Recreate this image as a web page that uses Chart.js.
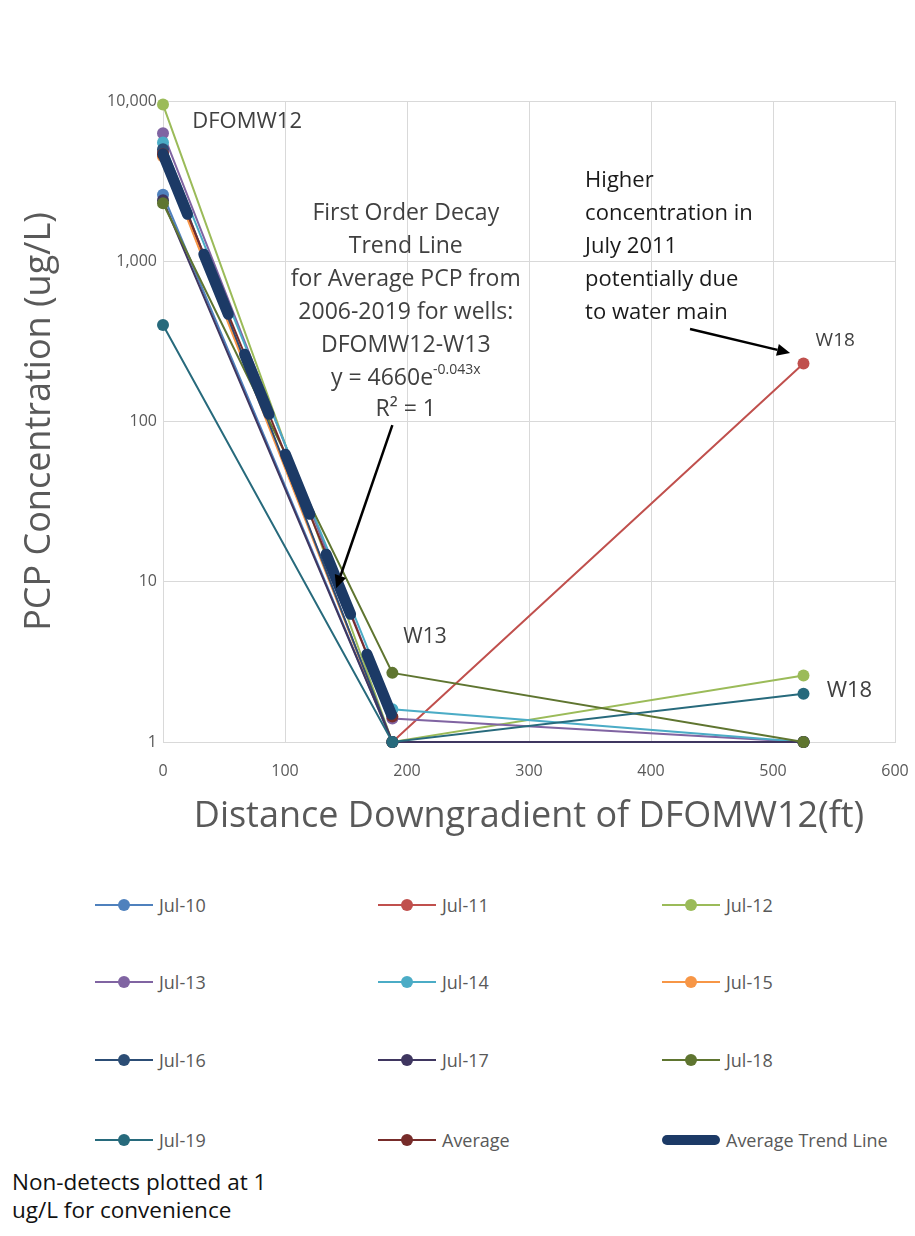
<!DOCTYPE html>
<html>
<head>
<meta charset="utf-8">
<script src="https://cdn.jsdelivr.net/npm/chart.js@4.4.1/dist/chart.umd.min.js"></script>
<style>
  html, body { margin: 0; padding: 0; background: #ffffff; }
  body { width: 915px; height: 1236px; position: relative; overflow: hidden; font-family: "Open Sans", sans-serif; }
  #wrap { position: absolute; left: 0; top: 0; width: 915px; height: 860px; }
  .leg { position: absolute; height: 20px; display: flex; align-items: center; }
  .leg .sample { position: relative; width: 58px; height: 20px; }
  .leg .sample .ln { position: absolute; left: 0; right: 0; top: 9px; height: 2px; }
  .leg .sample .dot { position: absolute; left: 23px; top: 4px; width: 12px; height: 12px; border-radius: 50%; }
  .leg .sample .thick { position: absolute; left: 0; right: 0; top: 5px; height: 10px; border-radius: 5px; }
  .leg .txt { margin-left: 6px; font-size: 18px; color: #595959; white-space: nowrap; }
  #note { position: absolute; left: 12px; top: 1168px; font-size: 22.5px; line-height: 28px; color: #111111; }
</style>
</head>
<body>
<div id="wrap"><canvas id="c" width="915" height="860"></canvas></div>
<div id="legend"></div>
<div id="note">Non-detects plotted at 1<br>ug/L for convenience</div>
<script>
// Well distances downgradient of DFOMW12 (ft): DFOMW12, W13, W18
const distances = [0, 188, 525];

// PCP concentrations (ug/L) per sampling event, one value per well
const jul10 = [2600, 1, 1];
const jul11 = [4800, 1, 230];
const jul12 = [9500, 1, 2.6];
const jul13 = [6300, 1.4, 1];
const jul14 = [5500, 1.6, 1];
const jul15 = [4500, 1, 1];
const jul16 = [5000, 1, 1];
const jul17 = [2400, 1, 1];
const jul18 = [2300, 2.7, 1];
const jul19 = [400, 1, 2.0];
const average = [4660, 1.44];           // DFOMW12 and W13 only

// Exponential trend line endpoints (DFOMW12 to W13)
const trendX = [0, 188];
const trendY = [4660, 1.44];

const yTicks = [1, 10, 100, 1000, 10000];
const xTickStep = 100;

const seriesNames = ['Jul-10', 'Jul-11', 'Jul-12', 'Jul-13', 'Jul-14', 'Jul-15',
                     'Jul-16', 'Jul-17', 'Jul-18', 'Jul-19', 'Average'];
const seriesValues = [jul10, jul11, jul12, jul13, jul14, jul15, jul16, jul17, jul18, jul19, average];
const seriesColors = ['#4f81bd', '#c0504d', '#9bbb59', '#8064a2', '#4bacc6', '#f79646',
                      '#2c4d75', '#3f3660', '#5f7530', '#276a7c', '#772c2a'];
const trendName = 'Average Trend Line';
const trendColor = '#1c3a66';

const FONT = '"Open Sans", sans-serif';

const datasets = seriesValues.map((vals, i) => ({
  label: seriesNames[i],
  data: vals.map((v, j) => ({ x: distances[j], y: v })),
  borderColor: seriesColors[i],
  backgroundColor: seriesColors[i],
  pointBackgroundColor: seriesColors[i],
  pointBorderColor: seriesColors[i],
  borderWidth: 2,
  pointRadius: 6,
  pointBorderWidth: 0,
  tension: 0,
  clip: false,
  order: 20 - i
}));
datasets.push({
  label: trendName,
  data: trendX.map((x, j) => ({ x: x, y: trendY[j] })),
  borderColor: trendColor,
  backgroundColor: trendColor,
  borderWidth: 11,
  borderDash: [65, 43],
  borderCapStyle: 'round',
  pointRadius: 0,
  tension: 0,
  clip: false,
  order: 0
});

// Text notes and arrows, anchored in data coordinates
const textNotes = [
  { lines: ['DFOMW12'], x: 24, y: 7400, align: 'left', size: 22, color: '#404040' },
  { lines: ['W13'], x: 197, y: 4.5, align: 'left', size: 21, color: '#404040' },
  { lines: ['W18'], x: 551, y: 318, align: 'center', size: 19, color: '#404040' },
  { lines: ['W18'], x: 544, y: 2.1, align: 'left', size: 22, color: '#404040' },
  { lines: ['Higher', 'concentration in', 'July 2011', 'potentially due', 'to water main'],
    x: 346, y: 3200, align: 'left', size: 22, color: '#1a1a1a', lineGap: 33 }
];
const trendNote = {
  lines: ['First Order Decay', 'Trend Line', 'for Average PCP from', '2006-2019 for wells:', 'DFOMW12-W13'],
  x: 199, y: 2000, size: 23, color: '#404040', lineGap: 33,
  eqMain: 'y = 4660e', eqSup: '-0.043x', r2: 'R\u00b2 = 1'
};
const arrows = [
  { from: [432, 378], to: [514, 268] },
  { from: [188, 95], to: [142, 9.1] }
];

const notesPlugin = {
  id: 'notes',
  afterDraw(chart) {
    const ctx = chart.ctx;
    const xs = chart.scales.x, ys = chart.scales.y;
    ctx.save();
    ctx.textBaseline = 'middle';
    textNotes.forEach(n => {
      ctx.font = n.size + 'px ' + FONT;
      ctx.fillStyle = n.color;
      ctx.textAlign = n.align;
      const px = xs.getPixelForValue(n.x), py = ys.getPixelForValue(n.y);
      n.lines.forEach((t, k) => ctx.fillText(t, px, py + k * (n.lineGap || 0)));
    });
    // trend line description block
    const t = trendNote;
    const cx = xs.getPixelForValue(t.x), cy = ys.getPixelForValue(t.y);
    ctx.font = t.size + 'px ' + FONT;
    ctx.fillStyle = t.color;
    ctx.textAlign = 'center';
    t.lines.forEach((s, k) => ctx.fillText(s, cx, cy + k * t.lineGap));
    const eqY = cy + t.lines.length * t.lineGap;
    const supFont = Math.round(t.size * 0.62) + 'px ' + FONT;
    const wMain = ctx.measureText(t.eqMain).width;
    ctx.font = supFont;
    const wSup = ctx.measureText(t.eqSup).width;
    const startX = cx - (wMain + wSup) / 2;
    ctx.textAlign = 'left';
    ctx.font = t.size + 'px ' + FONT;
    ctx.fillText(t.eqMain, startX, eqY);
    ctx.font = supFont;
    ctx.fillText(t.eqSup, startX + wMain, eqY - 8);
    ctx.font = t.size + 'px ' + FONT;
    ctx.textAlign = 'center';
    ctx.fillText(t.r2, cx, eqY + t.lineGap - 2);
    // arrows
    ctx.strokeStyle = '#000000';
    ctx.fillStyle = '#000000';
    ctx.lineWidth = 2.5;
    arrows.forEach(a => {
      const x1 = xs.getPixelForValue(a.from[0]), y1 = ys.getPixelForValue(a.from[1]);
      const x2 = xs.getPixelForValue(a.to[0]), y2 = ys.getPixelForValue(a.to[1]);
      const ang = Math.atan2(y2 - y1, x2 - x1);
      const head = 13, half = 6;
      const bx = x2 - head * Math.cos(ang), by = y2 - head * Math.sin(ang);
      ctx.beginPath();
      ctx.moveTo(x1, y1);
      ctx.lineTo(bx, by);
      ctx.stroke();
      ctx.beginPath();
      ctx.moveTo(x2, y2);
      ctx.lineTo(bx + half * Math.sin(ang), by - half * Math.cos(ang));
      ctx.lineTo(bx - half * Math.sin(ang), by + half * Math.cos(ang));
      ctx.closePath();
      ctx.fill();
    });
    ctx.restore();
  }
};

new Chart(document.getElementById('c'), {
  type: 'line',
  data: { datasets: datasets },
  options: {
    responsive: false,
    animation: false,
    layout: { padding: { left: 0, top: 101, right: 20, bottom: 22 } },
    plugins: { legend: { display: false }, tooltip: { enabled: false } },
    scales: {
      x: {
        type: 'linear', min: 0, max: 600,
        ticks: { stepSize: xTickStep, color: '#595959', font: { family: FONT, size: 16 }, padding: 4 },
        grid: { color: '#d9d9d9', lineWidth: 1, drawTicks: true, tickLength: 16, tickColor: 'rgba(0,0,0,0)' },
        border: { color: '#d9d9d9', width: 1 },
        title: { display: true, text: 'Distance Downgradient of DFOMW12(ft)', color: '#595959',
                 font: { family: FONT, size: 36 }, padding: { top: 0, bottom: 0 } },
        afterFit: s => { s.height = 96; }
      },
      y: {
        type: 'logarithmic', min: 1, max: 10000,
        afterBuildTicks: s => { s.ticks = yTicks.map(v => ({ value: v, major: true })); },
        ticks: { autoSkip: false, color: '#595959', font: { family: FONT, size: 16 }, padding: 6,
                 callback: v => Number(v).toLocaleString('en-US') },
        grid: { color: '#d9d9d9', lineWidth: 1, drawTicks: false },
        border: { color: '#d9d9d9', width: 1 },
        title: { display: true, text: 'PCP Concentration (ug/L)', color: '#595959',
                 font: { family: FONT, size: 36 }, padding: { top: 18, bottom: 0 } },
        afterFit: s => { s.width = 163; }
      }
    }
  },
  plugins: [notesPlugin]
});

// Legend: three columns, four rows
const legendCols = [95, 378, 662];
const legendRows = [895, 972, 1050, 1130];
const legend = document.getElementById('legend');
const legendItems = seriesNames.map((n, i) => ({ name: n, color: seriesColors[i], trend: false }));
legendItems.push({ name: trendName, color: trendColor, trend: true });
legendItems.forEach((it, i) => {
  const el = document.createElement('div');
  el.className = 'leg';
  el.style.left = legendCols[i % 3] + 'px';
  el.style.top = legendRows[Math.floor(i / 3)] + 'px';
  const sample = document.createElement('div');
  sample.className = 'sample';
  if (it.trend) {
    sample.innerHTML = '<div class="thick" style="background:' + it.color + '"></div>';
  } else {
    sample.innerHTML = '<div class="ln" style="background:' + it.color + '"></div>' +
                       '<div class="dot" style="background:' + it.color + '"></div>';
  }
  const txt = document.createElement('span');
  txt.className = 'txt';
  txt.textContent = it.name;
  el.appendChild(sample);
  el.appendChild(txt);
  legend.appendChild(el);
});
</script>
</body>
</html>
